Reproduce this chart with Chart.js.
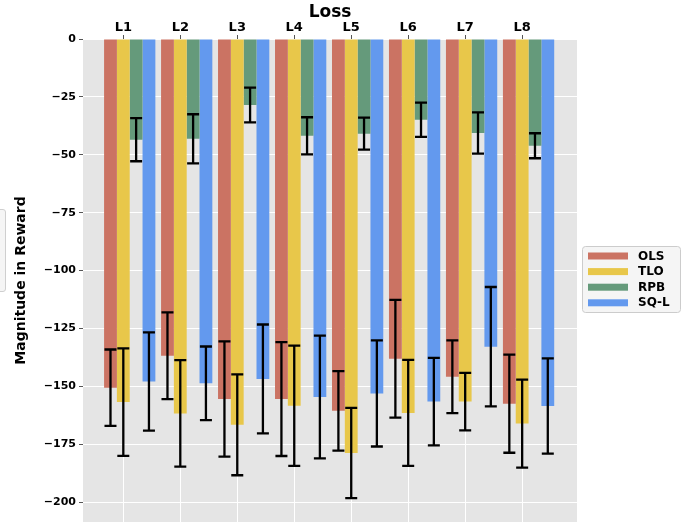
<!DOCTYPE html>
<html lang="en">
<head>
  <meta charset="UTF-8" />
  <title>Magnitude in Reward by Loss</title>
  <script src="https://cdn.jsdelivr.net/npm/chart.js"></script>
  <style>
    html, body { margin: 0; padding: 0; background: #fff; }
    .wrap { position: relative; width: 694px; height: 522px; overflow: hidden; }
    /* edge of a cut-off box on the far left of the original figure */
    .stub { position: absolute; left: -40px; top: 209px; width: 44px; height: 81px;
            border: 1px solid #cfcfcf; border-radius: 3px; background: #f5f5f5; }
  </style>
</head>
<body>
<div class="wrap">
  <canvas id="chart" width="694" height="522"></canvas>
  <div class="stub"></div>
</div>

<script>
  const losses = ["L1", "L2", "L3", "L4", "L5", "L6", "L7", "L8"];
  const methods = ["OLS", "TLO", "RPB", "SQ-L"];

  const olsMean = [-150.6, -136.8, -155.5, -155.5, -160.6, -138.1, -145.9, -157.5];
  const olsErr  = [16.5, 18.7, 24.9, 24.6, 17.2, 25.4, 15.7, 21.2];
  const tloMean = [-156.8, -161.7, -166.6, -158.4, -178.8, -161.5, -156.6, -166.1];
  const tloErr  = [23.2, 23.0, 21.8, 26.0, 19.5, 22.9, 12.4, 19.0];
  const rpbMean = [-43.5, -43.1, -28.5, -41.8, -40.9, -34.9, -40.6, -46.1];
  const rpbErr  = [9.3, 10.6, 7.5, 8.0, 6.9, 7.4, 8.9, 5.4];
  const sqlMean = [-147.9, -148.7, -146.8, -154.6, -153.1, -156.6, -132.9, -158.5];
  const sqlErr  = [21.2, 15.9, 23.5, 26.5, 22.9, 18.9, 25.8, 20.6];

  const yTickStep = 25;

  const colors = ['#cb7363', '#e8c74a', '#659a7b', '#6399ee'];
  const means = [olsMean, tloMean, rpbMean, sqlMean];
  const errs = [olsErr, tloErr, rpbErr, sqlErr];

  const groupWidth = 0.9;
  // ticks sit on the centre of the second bar of each group (matplotlib offset style)
  const tickShift = groupWidth / methods.length / 2;
  const font = 'DejaVu Sans';

  // grey panel behind the plot
  const panelBg = {
    id: 'panelBg',
    beforeDraw(chart) {
      const { ctx, chartArea: a } = chart;
      ctx.save();
      ctx.fillStyle = '#e5e5e5';
      ctx.fillRect(a.left, a.top, a.right - a.left, a.bottom - a.top);
      ctx.restore();
    }
  };

  // black error bars with caps
  const errorBars = {
    id: 'errorBars',
    afterDatasetsDraw(chart) {
      const { ctx } = chart;
      const yScale = chart.scales.y;
      ctx.save();
      ctx.strokeStyle = '#000';
      ctx.lineWidth = 2.3;
      chart.data.datasets.forEach((ds, d) => {
        const meta = chart.getDatasetMeta(d);
        meta.data.forEach((bar, i) => {
          const v = ds.data[i].y, e = ds.errors[i];
          const top = yScale.getPixelForValue(v + e);
          const bot = yScale.getPixelForValue(v - e);
          const x = bar.x;
          ctx.beginPath();
          ctx.moveTo(x, top); ctx.lineTo(x, bot);
          ctx.moveTo(x - 6, top); ctx.lineTo(x + 6, top);
          ctx.moveTo(x - 6, bot); ctx.lineTo(x + 6, bot);
          ctx.stroke();
        });
      });
      ctx.restore();
    }
  };

  // boxed legend to the right of the plot
  const sideLegend = {
    id: 'sideLegend',
    afterDraw(chart) {
      const { ctx } = chart;
      const bx = 582, by = 246, bw = 98, bh = 66;
      ctx.save();
      ctx.fillStyle = '#f5f5f5';
      ctx.strokeStyle = '#cccccc';
      ctx.lineWidth = 1;
      ctx.beginPath();
      ctx.roundRect(bx + 0.5, by + 0.5, bw, bh, 3);
      ctx.fill();
      ctx.stroke();
      ctx.font = 'bold 12px ' + font;
      ctx.textBaseline = 'middle';
      chart.data.datasets.forEach((ds, k) => {
        const cy = 256 + k * 15.6;
        ctx.fillStyle = ds.backgroundColor;
        ctx.fillRect(588, cy - 3.5, 40, 7);
        ctx.fillStyle = '#000';
        ctx.fillText(ds.label, 638, cy + 0.5);
      });
      ctx.restore();
    }
  };

  new Chart(document.getElementById('chart'), {
    type: 'bar',
    data: {
      datasets: methods.map((m, k) => ({
        label: m,
        data: means[k].map((v, i) => ({ x: i, y: v })),
        errors: errs[k],
        backgroundColor: colors[k],
        borderWidth: 0,
        categoryPercentage: groupWidth,
        barPercentage: 1
      }))
    },
    options: {
      responsive: false,
      animation: false,
      layout: { padding: { left: 0, right: 117, top: 0, bottom: 0 } },
      plugins: {
        legend: { display: false },
        tooltip: { enabled: false },
        title: {
          display: true,
          text: 'Loss',
          fullSize: false,
          color: '#000',
          font: { family: font, size: 17, weight: 'bold', lineHeight: 0.8 },
          padding: { top: 6, bottom: 0 }
        }
      },
      scales: {
        x: {
          type: 'linear',
          position: 'top',
          min: -0.82,
          max: 7.85,
          offset: false,
          afterBuildTicks: s => { s.ticks = losses.map((_, i) => ({ value: i - tickShift })); },
          afterFit: s => { s.height = 19.4; },
          ticks: {
            autoSkip: false,
            maxRotation: 0,
            padding: 0,
            color: '#000',
            font: { family: font, size: 13, weight: 'bold' },
            callback: (v, i) => losses[i]
          },
          grid: { offset: false, color: '#ffffff', lineWidth: 1, tickColor: '#555', tickLength: 4 },
          border: { display: false }
        },
        y: {
          min: -208.6,
          max: 0,
          afterFit: s => { s.width = 83; s.paddingTop = 0; s.paddingBottom = 0; },
          ticks: {
            stepSize: yTickStep,
            includeBounds: false,
            padding: 3,
            color: '#000',
            font: { family: font, size: 11, weight: 'bold' },
            callback: v => v < 0 ? '\u2212' + (-v) : String(v)
          },
          grid: { color: '#ffffff', lineWidth: 1, tickColor: '#555', tickLength: 4 },
          border: { display: false },
          title: {
            display: true,
            text: 'Magnitude in Reward',
            color: '#000',
            font: { family: font, size: 14, weight: 'bold' },
            padding: { top: 13, bottom: 0 }
          }
        }
      }
    },
    plugins: [panelBg, errorBars, sideLegend]
  });
</script>
</body>
</html>
